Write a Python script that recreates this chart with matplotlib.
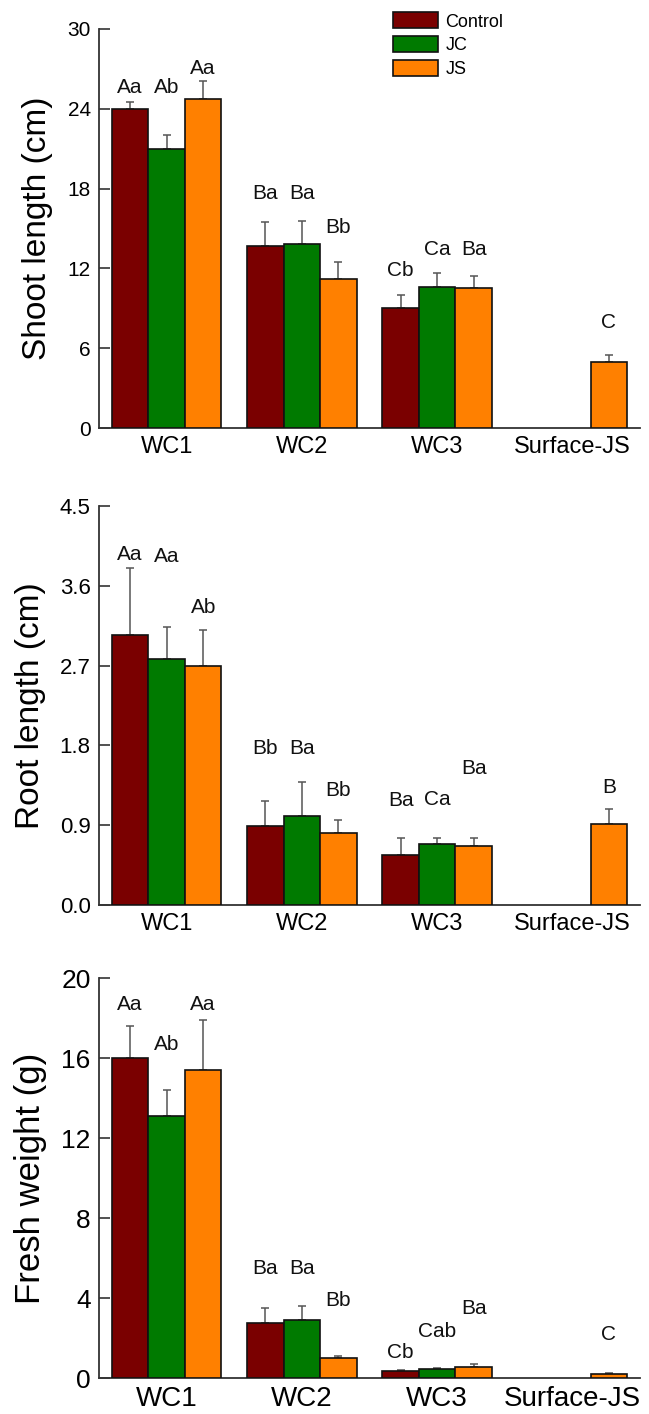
import numpy as np
import matplotlib
matplotlib.use("Agg")
import matplotlib.pyplot as plt

plt.rcParams['font.family'] = ['Liberation Sans', 'DejaVu Sans']

groups = ['WC1', 'WC2', 'WC3', 'Surface-JS']
treatments = ['Control', 'JC', 'JS']
colors = ['#7a0000', '#007a00', '#ff8000']

# shoot length (cm), nan where no bar
shoot_mean = {'Control': [24.0, 13.7, 9.0, np.nan],
              'JC': [21.0, 13.8, 10.6, np.nan],
              'JS': [24.7, 11.2, 10.5, 5.0]}
shoot_err = {'Control': [0.5, 1.8, 1.0, 0],
             'JC': [1.0, 1.8, 1.05, 0],
             'JS': [1.4, 1.3, 0.95, 0.5]}
shoot_letters = {'Control': ['Aa', 'Ba', 'Cb', ''],
                 'JC': ['Ab', 'Ba', 'Ca', ''],
                 'JS': ['Aa', 'Bb', 'Ba', 'C']}
shoot_label_y = {'Control': [25.6, 17.6, 11.85, 0],
                 'JC': [25.6, 17.6, 13.4, 0],
                 'JS': [27.0, 15.1, 13.4, 7.9]}

# root length (cm)
root_mean = {'Control': [3.04, 0.89, 0.56, np.nan],
             'JC': [2.78, 1.00, 0.69, np.nan],
             'JS': [2.69, 0.81, 0.66, 0.91]}
root_err = {'Control': [0.76, 0.28, 0.20, 0],
            'JC': [0.36, 0.39, 0.07, 0],
            'JS': [0.41, 0.15, 0.10, 0.17]}
root_letters = {'Control': ['Aa', 'Bb', 'Ba', ''],
                'JC': ['Aa', 'Ba', 'Ca', ''],
                'JS': ['Ab', 'Bb', 'Ba', 'B']}
root_label_y = {'Control': [3.95, 1.77, 1.18, 0],
                'JC': [3.93, 1.77, 1.19, 0],
                'JS': [3.35, 1.29, 1.54, 1.32]}

# fresh weight (g)
fw_mean = {'Control': [16.0, 2.75, 0.35, np.nan],
           'JC': [13.1, 2.9, 0.47, np.nan],
           'JS': [15.4, 1.0, 0.57, 0.2]}
fw_err = {'Control': [1.6, 0.75, 0.04, 0],
          'JC': [1.3, 0.7, 0.05, 0],
          'JS': [2.5, 0.08, 0.15, 0.03]}
fw_letters = {'Control': ['Aa', 'Ba', 'Cb', ''],
              'JC': ['Ab', 'Ba', 'Cab', ''],
              'JS': ['Aa', 'Bb', 'Ba', 'C']}
fw_label_y = {'Control': [18.7, 5.47, 1.25, 0],
              'JC': [16.7, 5.47, 2.33, 0],
              'JS': [18.7, 3.9, 3.5, 2.17]}

fig = plt.figure(figsize=(6.49, 14.14), dpi=100)
left, width = 99 / 649, 541 / 649
ax1 = fig.add_axes([left, 1 - 428 / 1414, width, 399 / 1414])
ax2 = fig.add_axes([left, 1 - 905 / 1414, width, 399 / 1414])
ax3 = fig.add_axes([left, 1 - 1378 / 1414, width, 400 / 1414])

x = np.arange(len(groups))
bw = 0.27


def panel(ax, mean, err, letters, label_y, ymax, ticks, ylabel, tickfs, xfs, labfs, ticklabels):
    handles = []
    for i, t in enumerate(treatments):
        pos = x + (i - 1) * bw
        m = np.array(mean[t])
        e = np.array(err[t])
        ok = ~np.isnan(m)
        b = ax.bar(pos[ok], m[ok], width=bw, color=colors[i], edgecolor='#111111',
                   linewidth=1.2, zorder=3)
        handles.append(b)
        ax.errorbar(pos[ok], m[ok], yerr=[np.zeros(ok.sum()), e[ok]], fmt='none',
                    ecolor='#555555', elinewidth=1.1, capsize=3, capthick=1.1, zorder=2)
        for j in range(len(groups)):
            if letters[t][j]:
                ax.text(pos[j], label_y[t][j], letters[t][j], ha='center', va='center',
                        fontsize=15, color='#111111')
    ax.set_xlim(-0.5, 3.5)
    ax.set_ylim(0, ymax)
    ax.set_yticks(ticks)
    ax.set_yticklabels(ticklabels, fontsize=tickfs)
    ax.set_xticks(x)
    ax.set_xticklabels(groups, fontsize=xfs)
    ax.tick_params(axis='x', length=0, pad=6)
    ax.tick_params(axis='y', direction='in', length=8, width=1.2, color='#333333', pad=6)
    ax.set_ylabel(ylabel, fontsize=labfs, labelpad=10)
    for s in ['top', 'right']:
        ax.spines[s].set_visible(False)
    for s in ['left', 'bottom']:
        ax.spines[s].set_linewidth(1.3)
        ax.spines[s].set_color('#333333')
    return handles


h = panel(ax1, shoot_mean, shoot_err, shoot_letters, shoot_label_y, 30,
          [0, 6, 12, 18, 24, 30], 'Shoot length (cm)', 15, 17, 24,
          ['0', '6', '12', '18', '24', '30'])
panel(ax2, root_mean, root_err, root_letters, root_label_y, 4.5,
      [0, 0.9, 1.8, 2.7, 3.6, 4.5], 'Root length (cm)', 16, 17, 24,
      ['0.0', '0.9', '1.8', '2.7', '3.6', '4.5'])
panel(ax3, fw_mean, fw_err, fw_letters, fw_label_y, 20,
      [0, 4, 8, 12, 16, 20], 'Fresh weight (g)', 19, 20, 25,
      ['0', '4', '8', '12', '16', '20'])

ax1.legend(h, treatments, loc='upper left', bbox_to_anchor=(0.53, 1.06), frameon=False,
           fontsize=13, handlelength=2.5, handleheight=1.0, labelspacing=0.3,
           handletextpad=0.4, borderaxespad=0)

fig.savefig('out.png', dpi=100)
